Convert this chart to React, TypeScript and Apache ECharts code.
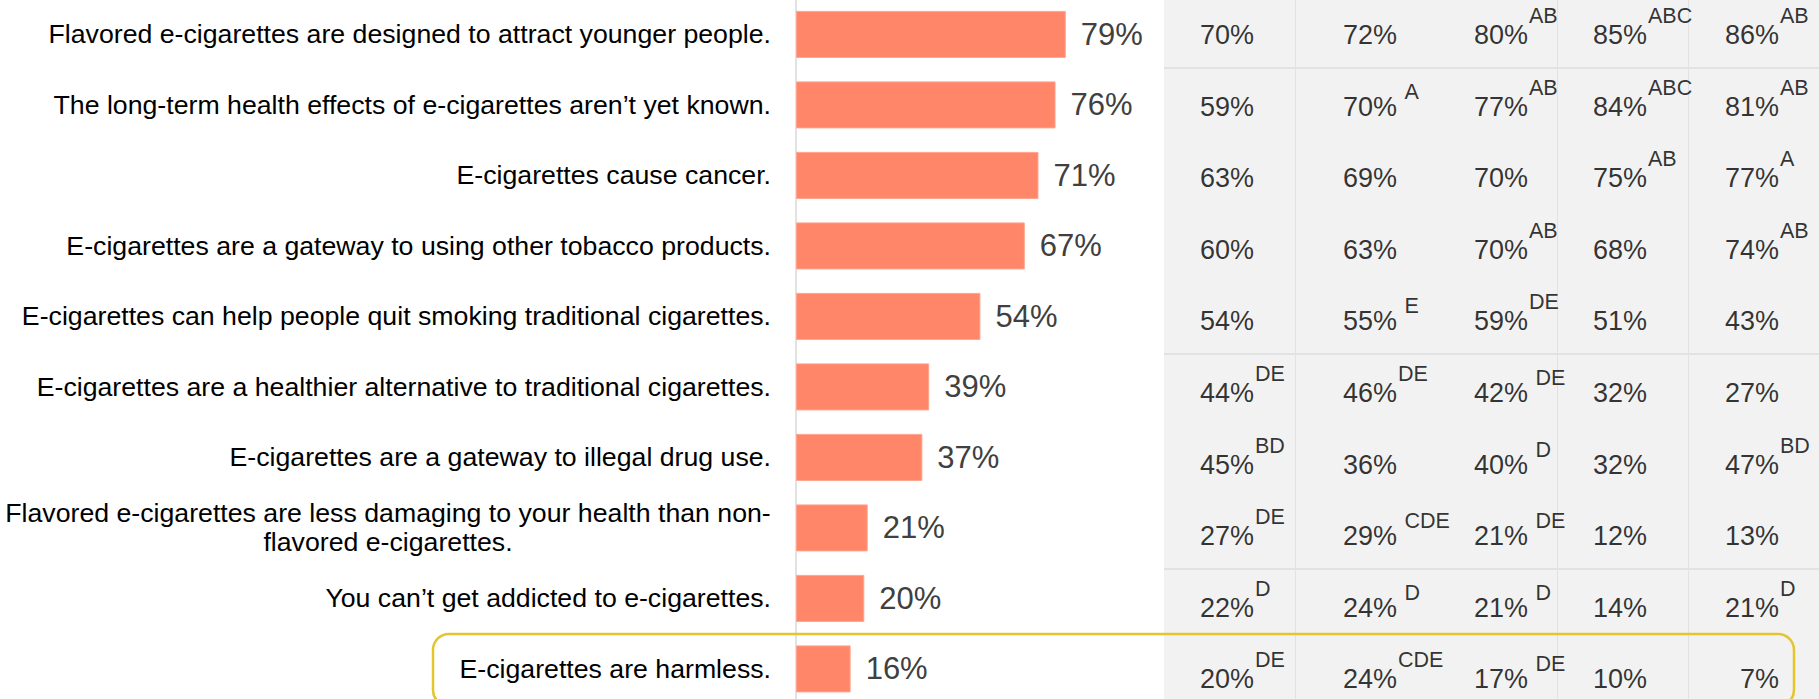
import React, { useEffect, useRef } from "react";
import * as echarts from "echarts";

const statements = [
  "Flavored e-cigarettes are designed to attract younger people.",
  "The long-term health effects of e-cigarettes aren’t yet known.",
  "E-cigarettes cause cancer.",
  "E-cigarettes are a gateway to using other tobacco products.",
  "E-cigarettes can help people quit smoking traditional cigarettes.",
  "E-cigarettes are a healthier alternative to traditional cigarettes.",
  "E-cigarettes are a gateway to illegal drug use.",
  "Flavored e-cigarettes are less damaging to your health than non-\nflavored e-cigarettes.",
  "You can’t get addicted to e-cigarettes.",
  "E-cigarettes are harmless.",
];

const totalAgree = [79, 76, 71, 67, 54, 39, 37, 21, 20, 16];

const columns = ["A", "B", "C", "D", "E"];

// "^" marks a superscript (significance letters); a space before "^" means a gap
const colA = ["70%", "59%", "63%", "60%", "54%", "44%^DE", "45%^BD", "27%^DE", "22%^D", "20%^DE"];
const colB = ["72%", "70% ^A", "69%", "63%", "55% ^E", "46%^DE", "36%", "29% ^CDE", "24% ^D", "24%^CDE"];
const colC = ["80%^AB", "77%^AB", "70%", "70%^AB", "59%^DE", "42% ^DE", "40% ^D", "21% ^DE", "21% ^D", "17% ^DE"];
const colD = ["85%^ABC", "84%^ABC", "75%^AB", "68%", "51%", "32%", "32%", "12%", "14%", "10%"];
const colE = ["86%^AB", "81%^AB", "77%^A", "74%^AB", "43%", "27%", "47%^BD", "13%", "21%^D", "\u20077%"];

const tableColumns = [colA, colB, colC, colD, colE];

// layout (not data)
const FONT = "'Liberation Sans', Arial, sans-serif";
const colTextShift = [-29, -17, -17, -29, -28];

function cellFormatter(params: any) {
  const text: string = params.name;
  const idx = text.indexOf("^");
  if (idx < 0) return `{n|${text}}`;
  const main = text.slice(0, idx);
  const sup = text.slice(idx + 1);
  if (main.endsWith(" ")) return `{n|${main}}{lo|${sup}}`;
  return `{n|${main}}{hi|${sup}}`;
}

const cellRich = {
  n: { fontSize: 27, lineHeight: 72, color: "#000", fontFamily: FONT },
  hi: { fontSize: 21.5, color: "#000", fontFamily: FONT, padding: [0, 0, 38, 1] },
  lo: { fontSize: 21.5, color: "#000", fontFamily: FONT, padding: [0, 0, 30, 0] },
};

export default function App() {
  const ref = useRef<HTMLDivElement>(null);

  useEffect(() => {
    if (!ref.current) return;
    const chart = echarts.init(ref.current, undefined, { renderer: "svg" });

    const tableSeries = columns.map((c, ci) => ({
      type: "scatter",
      xAxisIndex: 1,
      yAxisIndex: 1,
      symbol: "circle",
      symbolSize: 1,
      silent: true,
      itemStyle: { color: "rgba(0,0,0,0)" },
      data: tableColumns[ci].map((t, ri) => ({ name: t, value: [c, statements[ri]] })),
      label: {
        show: true,
        position: [colTextShift[ci], 3.6],
        align: "left",
        verticalAlign: "middle",
        formatter: cellFormatter,
        rich: cellRich,
      },
      z: 5,
    }));

    chart.setOption({
      animation: false,
      backgroundColor: "#fff",
      textStyle: { fontFamily: FONT },
      grid: [
        {
          left: 796,
          top: -0.85,
          width: 341.5,
          height: 705,
          containLabel: false,
          outerBoundsMode: "none",
        },
        {
          left: 1164,
          top: -3.9,
          width: 655,
          height: 716,
          show: true,
          backgroundColor: "#f2f2f2",
          borderWidth: 0,
          containLabel: false,
          outerBoundsMode: "none",
          z: 0,
        },
      ],
      xAxis: [
        { type: "value", gridIndex: 0, min: 0, max: 100, show: false },
        {
          type: "category",
          gridIndex: 1,
          data: columns,
          axisLine: { show: false },
          axisTick: { show: false },
          axisLabel: { show: false },
          splitLine: {
            show: true,
            interval: (i: number) => i === 1 || i === 3 || i === 4,
            lineStyle: { color: "#e2e2e2", width: 1 },
          },
        },
      ],
      yAxis: [
        {
          type: "category",
          gridIndex: 0,
          inverse: true,
          data: statements,
          axisLine: { show: true, lineStyle: { color: "#d9d9d9", width: 1.5 } },
          axisTick: { show: false },
          axisLabel: {
            margin: 25,
            fontSize: 26.7,
            color: "#000",
            fontFamily: FONT,
            formatter: (v: string) =>
              v.indexOf("\n") >= 0
                ? v
                    .split("\n")
                    .map((l) => `{w|${l}}`)
                    .join("\n")
                : v,
            rich: {
              w: { width: 766, align: "center", fontSize: 26.7, lineHeight: 29, color: "#000", fontFamily: FONT },
            },
          },
        },
        {
          type: "category",
          gridIndex: 1,
          inverse: true,
          data: statements,
          axisLine: { show: false },
          axisTick: { show: false },
          axisLabel: { show: false },
          splitLine: {
            show: true,
            interval: (i: number) => i === 1 || i === 5 || i === 8,
            lineStyle: { color: "#dcdcdc", width: 1.5 },
          },
        },
      ],
      series: [
        {
          type: "bar",
          xAxisIndex: 0,
          yAxisIndex: 0,
          data: totalAgree,
          barWidth: 47,
          itemStyle: { color: "#ff8669", borderColor: "#ffa48d", borderWidth: 1 },
          label: {
            show: true,
            position: "right",
            distance: 15,
            fontSize: 31,
            color: "#404040",
            fontFamily: FONT,
            formatter: "{c}%",
          },
          z: 3,
        },
        ...tableSeries,
      ],
      graphic: [
        {
          type: "rect",
          z: 100,
          silent: true,
          shape: { x: 433, y: 634, width: 1361, height: 72, r: 16 },
          style: { fill: "none", stroke: "#e2c52f", lineWidth: 2.5 },
        },
      ],
    });

    return () => chart.dispose();
  }, []);

  return (
    <div
      ref={ref}
      style={{ position: "absolute", left: 0, top: 0, width: 1819, height: 699 }}
    />
  );
}
